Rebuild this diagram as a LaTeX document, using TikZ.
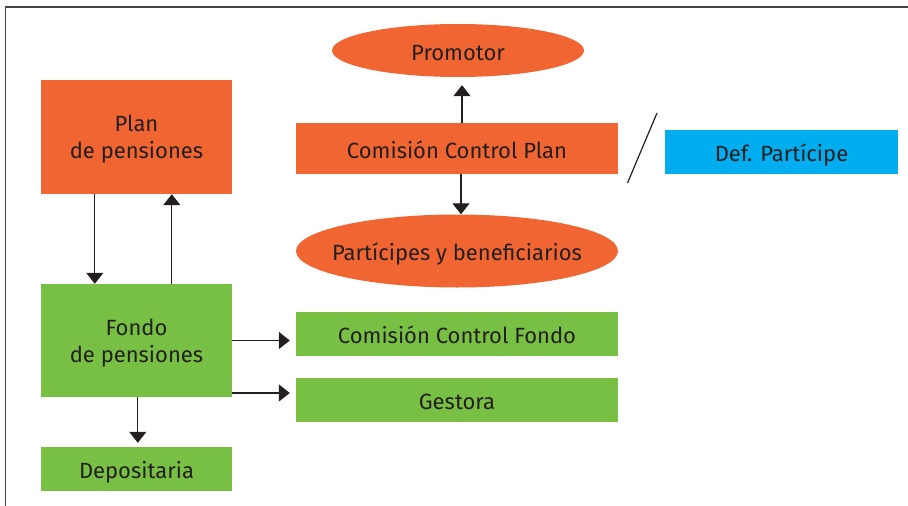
\documentclass[tikz,border=0pt]{standalone}
\usepackage{fontspec}
\setmainfont{Fira Sans}
\usetikzlibrary{arrows.meta,shapes.geometric,calc}
\definecolor{plorange}{HTML}{F16532}
\definecolor{fdgreen}{HTML}{77C043}
\definecolor{dpblue}{HTML}{00AEEF}
\definecolor{ink}{HTML}{231F20}
\tikzset{
  box/.style={rectangle, inner sep=0pt, align=center, text=ink,
    font=\fontsize{22}{27}\selectfont, text height=19pt, text depth=0pt},
  twoline/.style={text height={}, text depth=-8pt},
  orangebox/.style={box, fill=plorange},
  greenbox/.style={box, fill=fdgreen},
  bluebox/.style={box, fill=dpblue},
  oval/.style={ellipse, inner ysep=0pt, inner xsep=-12pt, fill=plorange, text=ink,
    font=\fontsize{22}{27}\selectfont, text height=19pt, text depth=0pt},
  arr/.style={draw=ink, line width=1.3pt, -{Triangle[width=17pt,length=11pt]}},
}
\begin{document}
\begin{tikzpicture}[x=1pt,y=-1pt]
\useasboundingbox (0,0) rectangle (908,506);
% frame edges
\draw[line width=1.6pt, draw=ink!85] (5.5,506) -- (5.5,7) -- (908,7);

% plan side
\node[orangebox, twoline, minimum width=191pt, minimum height=114pt] (plan) at (136.5,137) {Plan\\de pensiones};
\node[greenbox, twoline, minimum width=191pt, minimum height=113pt] (fondo) at (136.5,340.5) {Fondo\\de pensiones};
\node[greenbox, minimum width=191pt, minimum height=44pt] (depo) at (136.5,469) {Depositaria};

\node[oval, minimum width=252pt, minimum height=53pt] (prom) at (458,50.5) {Promotor};
\node[orangebox, minimum width=322pt, minimum height=51pt] (ccp) at (457,148.5) {Comisión Control Plan};
\node[oval, minimum width=322pt, minimum height=73pt] (part) at (457,251) {Partícipes y beneficiarios};
\node[bluebox, minimum width=233pt, minimum height=44pt] (defp) at (781.5,152) {Def. Partícipe};

\node[greenbox, minimum width=322pt, minimum height=44pt] (ccf) at (457,334) {Comisión Control Fondo};
\node[greenbox, minimum width=322pt, minimum height=44pt] (gest) at (457,400) {Gestora};

% separator stroke
\coordinate (sA) at (657,113);
\coordinate (sB) at (627.5,183);
\draw[line width=1.2pt, draw=ink] (sA) -- (sB);

% connectors
\draw[arr] ([xshift=54pt]plan.south west) -- ([xshift=54pt]fondo.north west);
\draw[arr] ([xshift=131pt]fondo.north west) -- ([xshift=131pt]plan.south west);
\draw[arr, shorten >=8pt] ([xshift=5pt]ccp.north) -- ([xshift=5pt]ccp.north |- prom.south);
\draw[arr] ([xshift=4pt]ccp.south) -- ([xshift=4pt]part.north);
\draw[arr, shorten >=6pt] (fondo.east) -- (fondo.east -| ccf.west);
\draw[arr, shorten >=6pt] ([yshift=-52.5pt]fondo.east) -- ([yshift=-52.5pt]fondo.east -| gest.west);
\draw[arr, shorten >=4pt] ([xshift=97pt]fondo.south west) -- ([xshift=97pt]depo.north west);
\end{tikzpicture}
\end{document}
